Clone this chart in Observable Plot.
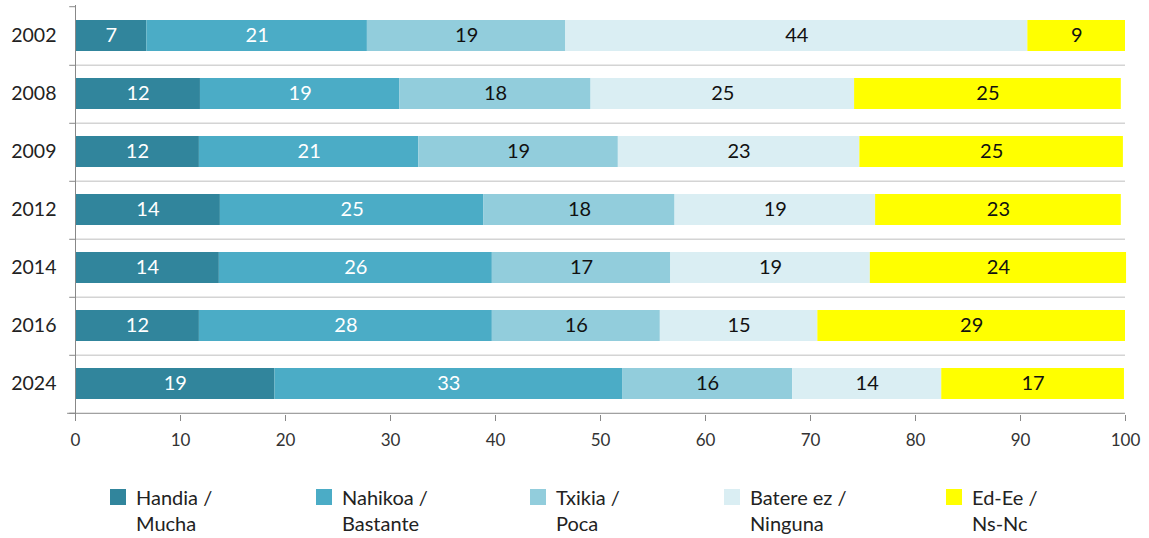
<!DOCTYPE html>
<html>
<head>
<meta charset="utf-8">
<script src="https://cdn.jsdelivr.net/npm/d3@7"></script>
<script src="https://cdn.jsdelivr.net/npm/@observablehq/plot@0.6"></script>
<style>
  html, body { margin: 0; padding: 0; background: #fff; }
  body { width: 1149px; height: 538px; overflow: hidden; font-family: Lato, "Open Sans", sans-serif; }
  #chart svg { display: block; }
  #legend { position: relative; height: 86px; }
  .item { position: absolute; top: 32px; display: flex; align-items: flex-start; font-size: 20px; color: #222; line-height: 26px; }
  .sw { width: 16px; height: 16px; margin-top: 5px; margin-right: 10px; flex: none; }
</style>
</head>
<body>
<div id="chart"></div>
<div id="legend"></div>
<script>
const years = ["2002", "2008", "2009", "2012", "2014", "2016", "2024"];
const categories = ["Handia / Mucha", "Nahikoa / Bastante", "Txikia / Poca", "Batere ez / Ninguna", "Ed-Ee / Ns-Nc"];
const legendLines = [["Handia /", "Mucha"], ["Nahikoa /", "Bastante"], ["Txikia /", "Poca"], ["Batere ez /", "Ninguna"], ["Ed-Ee /", "Ns-Nc"]];
const colors = ["#31859C", "#4BACC6", "#92CDDC", "#DAEEF3", "#FFFF00"];
const labelColors = ["#ffffff", "#ffffff", "#111111", "#111111", "#111111"];

// values per category, in order of years
const handia   = [6.8, 11.9, 11.8, 13.8, 13.7, 11.8, 19.0];
const nahikoa  = [21.0, 19.0, 20.9, 25.1, 26.0, 27.9, 33.1];
const txikia   = [18.9, 18.2, 19.0, 18.2, 17.0, 16.0, 16.2];
const batere   = [44.0, 25.1, 23.0, 19.1, 19.0, 15.0, 14.2];
const edee     = [9.3, 25.4, 25.1, 23.4, 24.4, 29.3, 17.4];
const xTicks = [0, 10, 20, 30, 40, 50, 60, 70, 80, 90, 100];

const series = [handia, nahikoa, txikia, batere, edee];
const data = [];
years.forEach((y, i) => series.forEach((s, k) => data.push({year: y, cat: categories[k], k, value: s[i]})));

const W = 1149, H = 452, mT = 5, mB = 37, mL = 75, mR = 24;
const step = (H - mT - mB) / years.length;

const plot = Plot.plot({
  width: W, height: H,
  marginTop: mT, marginBottom: mB, marginLeft: mL, marginRight: mR,
  style: {fontFamily: "Lato, 'Open Sans', sans-serif", color: "#333", background: "#fff"},
  x: {domain: [0, 100], label: null},
  y: {domain: years, paddingInner: 0.46, paddingOuter: 0.23, label: null},
  color: {domain: categories, range: colors},
  marks: [
    // gridlines between bands
    Plot.ruleY(years.slice(0, -1), {y: d => d, dy: step / 2, x1: 0, x2: 100, stroke: "#d4d4d4", strokeWidth: 1.5}),
    Plot.barX(data, Plot.stackX({x: "value", y: "year", fill: "cat", order: categories})),
    Plot.textX(data, Plot.stackX({x: "value", y: "year", z: "cat", order: categories,
      text: d => String(Math.round(d.value)), fill: d => labelColors[d.k], fontSize: 20})),
    // y axis line, x axis line and stubs at band boundaries
    Plot.ruleX([0], {stroke: "#888"}),
    Plot.ruleY(years.slice(-1), {y: d => d, dy: step / 2, x1: -0.75, x2: 100, stroke: "#888"}),
    Plot.ruleY(years, {y: d => d, dy: step / 2, x1: -0.55, x2: 0, stroke: "#888"}),
    Plot.ruleY(years.slice(0, 1), {y: d => d, dy: -step / 2, x1: -0.55, x2: 0, stroke: "#888"}),
    Plot.axisX({ticks: xTicks, tickSize: 6, tickPadding: 12, fontSize: 17, stroke: "#888", fill: "#333"}),
    Plot.axisY({tickSize: 0, tickPadding: 19, fontSize: 19.5, fill: "#222"})
  ]
});
document.getElementById("chart").appendChild(plot);

const legend = document.getElementById("legend");
const lefts = [110, 316, 530, 724, 946];
legendLines.forEach((lines, k) => {
  const it = document.createElement("div");
  it.className = "item";
  it.style.left = lefts[k] + "px";
  const sw = document.createElement("div");
  sw.className = "sw";
  sw.style.background = colors[k];
  const tx = document.createElement("div");
  tx.innerHTML = lines.join("<br>");
  it.appendChild(sw); it.appendChild(tx);
  legend.appendChild(it);
});
</script>
</body>
</html>
